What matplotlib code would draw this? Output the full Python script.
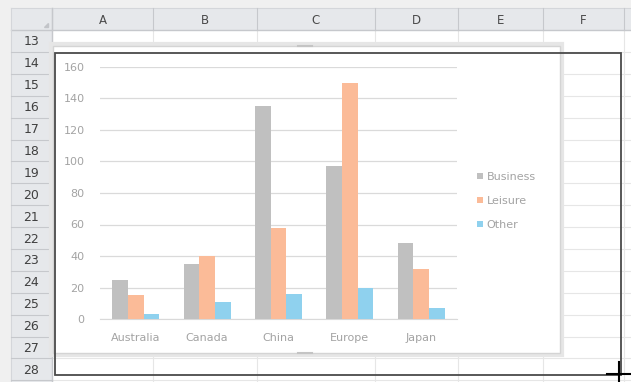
import matplotlib
matplotlib.use("Agg")
import matplotlib.pyplot as plt
from matplotlib.patches import Rectangle, Patch
import numpy as np

# ---- data ----
categories = ["Australia", "Canada", "China", "Europe", "Japan"]
business = [25, 35, 135, 97, 48]
leisure = [15, 40, 58, 150, 32]
other = [3, 11, 16, 20, 7]
series_names = ["Business", "Leisure", "Other"]
y_ticks = [0, 20, 40, 60, 80, 100, 120, 140, 160]
col_letters = ["A", "B", "C", "D", "E", "F"]
row_numbers = list(range(13, 29))

W, H = 631, 382
fig = plt.figure(figsize=(W / 100, H / 100), dpi=100)
fig.patch.set_facecolor("#f0f0f0")

# ---- spreadsheet background ----
bg = fig.add_axes([0, 0, 1, 1])
bg.set_xlim(0, W)
bg.set_ylim(H, 0)
bg.axis("off")

hdr_top, hdr_bot = 8, 30
row_left, row_right = 11, 52
col_bounds = [52, 153, 257, 375, 458, 543, 624]
row_h = 21.9

# cell area white
bg.add_patch(Rectangle((row_right, hdr_bot), W - row_right, H - hdr_bot, facecolor="white", edgecolor="none", zorder=0))
# headers
bg.add_patch(Rectangle((row_left, hdr_top), W - row_left, hdr_bot - hdr_top, facecolor="#e6e8eb", edgecolor="none", zorder=1))
bg.add_patch(Rectangle((row_left, hdr_top), row_right - row_left, H - hdr_top, facecolor="#e6e8eb", edgecolor="none", zorder=1))
bg.plot([row_left, W], [hdr_bot, hdr_bot], color="#c6c8cc", lw=1, zorder=2)
bg.plot([row_right, row_right], [hdr_top, H], color="#c6c8cc", lw=1, zorder=2)
bg.plot([row_left, W], [hdr_top, hdr_top], color="#d4d6da", lw=0.8, zorder=2)
bg.plot([row_left, row_left], [hdr_top, H], color="#d4d6da", lw=0.8, zorder=2)
# corner triangle
bg.fill([44, 48, 48], [27, 27, 23], color="#c2c4c8", zorder=3)

# column grid and letters
for i, xb in enumerate(col_bounds):
    bg.plot([xb, xb], [hdr_top, hdr_bot], color="#c6c8cc", lw=0.8, zorder=2)
    bg.plot([xb, xb], [hdr_bot, H], color="#e6e6e6", lw=0.8, zorder=1)
for i, letter in enumerate(col_letters):
    xc = (col_bounds[i] + col_bounds[i + 1]) / 2
    bg.text(xc, (hdr_top + hdr_bot) / 2 + 1, letter, ha="center", va="center", fontsize=8.5, color="#4a4a4a", zorder=3)

# rows
for k, rn in enumerate(row_numbers):
    y0 = hdr_bot + k * row_h
    y1 = y0 + row_h
    bg.plot([row_left, row_right], [y1, y1], color="#c6c8cc", lw=0.8, zorder=2)
    bg.plot([row_right, W], [y1, y1], color="#e6e6e6", lw=0.8, zorder=1)
    bg.text((row_left + row_right) / 2, (y0 + y1) / 2 + 1, str(rn), ha="center", va="center", fontsize=9, color="#404040", zorder=3)

# chart area box with soft shadow
bg.add_patch(Rectangle((51, 44), 511, 311, facecolor="none", edgecolor="#e6e6e6", lw=3, zorder=4))
bg.add_patch(Rectangle((53, 46), 507, 307, facecolor="white", edgecolor="#d4d4d4", lw=1, zorder=5))
bg.plot([298, 312], [46, 46], color="#c4c4c4", lw=1.5, zorder=6)
bg.plot([298, 312], [353, 353], color="#c4c4c4", lw=1.5, zorder=6)

# ---- chart ----
ax = fig.add_axes([100 / W, 1 - 319 / H, 357 / W, 252 / H])
ax.set_facecolor("white")
x = np.arange(len(categories))
bw = 0.22
colors = ["#c0c0c0", "#fbbb98", "#8fd1ee"]
for j, (vals, name) in enumerate(zip([business, leisure, other], series_names)):
    ax.bar(x + (j - 1) * bw, vals, width=bw, color=colors[j], label=name, zorder=3)
ax.set_xlim(-0.5, len(categories) - 0.5)
ax.set_ylim(0, 160)
ax.set_yticks(y_ticks)
ax.set_xticks(x)
ax.set_xticklabels(categories)
ax.yaxis.grid(True, color="#dadada", lw=0.9, zorder=0)
for s in ["top", "right", "left"]:
    ax.spines[s].set_visible(False)
ax.spines["bottom"].set_color("#d9d9d9")
ax.tick_params(axis="both", length=0, labelsize=8, colors="#a3a3a3")
ax.tick_params(axis="y", pad=11)
ax.tick_params(axis="x", pad=10)

handles = [Patch(facecolor=c, edgecolor="none") for c in colors]
fig.legend(handles, series_names, loc="center left", bbox_to_anchor=(477 / W, 1 - 201 / H),
           frameon=False, fontsize=8, labelcolor="#a3a3a3", handlelength=0.5, handleheight=0.5,
           handletextpad=0.35, labelspacing=1.25, borderaxespad=0, borderpad=0)

# ---- overlay: selection rectangle and cursor ----
ov = fig.add_axes([0, 0, 1, 1])
ov.set_xlim(0, W)
ov.set_ylim(H, 0)
ov.axis("off")
ov.patch.set_alpha(0)
ov.add_patch(Rectangle((54.5, 53), 566.5, 322, facecolor="none", edgecolor="#4a4a4a", lw=1.3))
ov.plot([607, 631], [374, 374], color="black", lw=1.5)
ov.plot([619, 619], [362, 382], color="black", lw=1.5)

fig.savefig("out.png", dpi=100, facecolor=fig.get_facecolor())
